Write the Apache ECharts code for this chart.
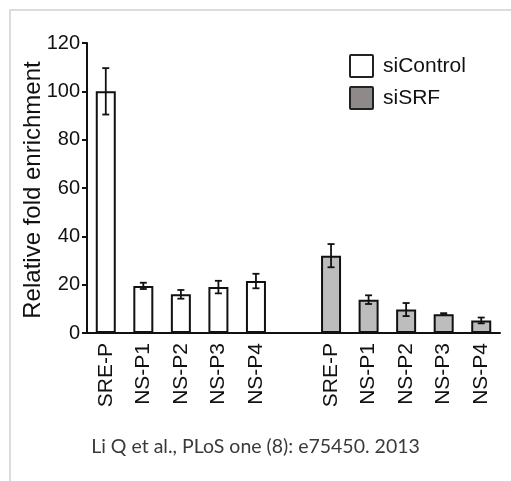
<!DOCTYPE html>
<html>
<head>
<meta charset="utf-8">
<script src="https://cdn.jsdelivr.net/npm/echarts@6/dist/echarts.min.js"></script>
<style>
html,body{margin:0;padding:0;background:#fff;}
#chart{width:511px;height:481px;}
</style>
</head>
<body>
<div id="chart"></div>
<script>
var categories = ['SRE-P','NS-P1','NS-P2','NS-P3','NS-P4','','SRE-P','NS-P1','NS-P2','NS-P3','NS-P4'];
var siControl = [100, 19.5, 16, 19, 21.5];
var siControlErr = [9.6, 1.3, 1.8, 2.6, 3];
var siSRF = [32, 13.8, 9.7, 7.8, 5.2];
var siSRFErr = [4.8, 1.8, 2.7, 0.4, 1.2];
var yTicks = [0, 20, 40, 60, 80, 100, 120];
var yTitle = 'Relative fold enrichment';
var caption = 'Li Q et al., PLoS one (8): e75450. 2013';

var srfOffset = 6;
var ctrlData = categories.map(function(c, i){ return i < siControl.length ? siControl[i] : '-'; });
var srfData = categories.map(function(c, i){ return i >= srfOffset ? siSRF[i - srfOffset] : '-'; });
var errData = [];
siControl.forEach(function(v, i){ errData.push([i, v, siControlErr[i]]); });
siSRF.forEach(function(v, i){ errData.push([i + srfOffset, v, siSRFErr[i]]); });

var chart = echarts.init(document.getElementById('chart'));
var font = '"Liberation Sans", Arial, sans-serif';
var boxIcon = 'path://M1,0 L22,0 Q23,0 23,1 L23,21 Q23,22 22,22 L1,22 Q0,22 0,21 L0,1 Q0,0 1,0 Z';
chart.setOption({
  animation: false,
  backgroundColor: '#fff',
  grid: {left: 87, right: 11, top: 43, bottom: 148, containLabel: false},
  graphic: [
    {type: 'polyline', shape: {points: [[10, 481], [10, 10], [511, 10]]}, style: {stroke: '#dcdcdc', lineWidth: 2, fill: null}},
    {type: 'text', x: 33, y: 190, rotation: Math.PI / 2,
      style: {text: yTitle, font: '24px "Liberation Sans", Arial, sans-serif', fill: '#111', align: 'center', verticalAlign: 'middle'}},
    {type: 'text', left: 'center', top: 437, style: {text: caption, font: '19.5px Lato, "Noto Sans", sans-serif', fill: '#3a3a3a'}}
  ],
  legend: {
    orient: 'vertical', left: 349, top: 54, padding: 0,
    itemWidth: 23, itemHeight: 22, itemGap: 8,
    icon: boxIcon,
    textStyle: {fontFamily: font, fontSize: 21, color: '#111', padding: [0, 0, 0, 5]},
    data: [
      {name: 'siControl', itemStyle: {color: '#fff', borderColor: '#222', borderWidth: 2}},
      {name: 'siSRF', itemStyle: {color: '#8e8a8a', borderColor: '#222', borderWidth: 2}}
    ]
  },
  xAxis: {
    type: 'category', data: categories,
    axisLine: {lineStyle: {color: '#111', width: 2}},
    axisTick: {show: false},
    axisLabel: {rotate: 90, margin: 10, interval: 0, fontFamily: font, fontSize: 21, color: '#111'}
  },
  yAxis: {
    type: 'value', min: 0, max: 120, interval: 20,
    axisLine: {show: true, lineStyle: {color: '#111', width: 2}},
    axisTick: {show: true, length: 5, lineStyle: {color: '#111', width: 2}},
    splitLine: {show: false},
    axisLabel: {margin: 7, fontFamily: font, fontSize: 20, color: '#111',
      formatter: function(v){ return yTicks.indexOf(v) >= 0 ? String(v) : ''; }}
  },
  series: [
    {name: 'siControl', type: 'bar', data: ctrlData, barWidth: 20, barGap: '-100%',
      itemStyle: {color: '#fff', borderColor: '#111', borderWidth: 2}},
    {name: 'siSRF', type: 'bar', data: srfData, barWidth: 20, barGap: '-100%',
      itemStyle: {color: '#bdbdbd', borderColor: '#111', borderWidth: 2}},
    {name: 'err', type: 'custom', data: errData, encode: {x: 0, y: 1}, z: 10,
      renderItem: function(params, api){
        var x = api.value(0), v = api.value(1), e = api.value(2);
        var top = api.coord([x, v + e]);
        var bot = api.coord([x, v - e]);
        var cap = 3.5;
        var st = {stroke: '#111', lineWidth: 1.8};
        return {type: 'group', children: [
          {type: 'line', shape: {x1: top[0], y1: top[1], x2: bot[0], y2: bot[1]}, style: st},
          {type: 'line', shape: {x1: top[0] - cap, y1: top[1], x2: top[0] + cap, y2: top[1]}, style: st},
          {type: 'line', shape: {x1: bot[0] - cap, y1: bot[1], x2: bot[0] + cap, y2: bot[1]}, style: st}
        ]};
      }}
  ]
});
</script>
</body>
</html>
